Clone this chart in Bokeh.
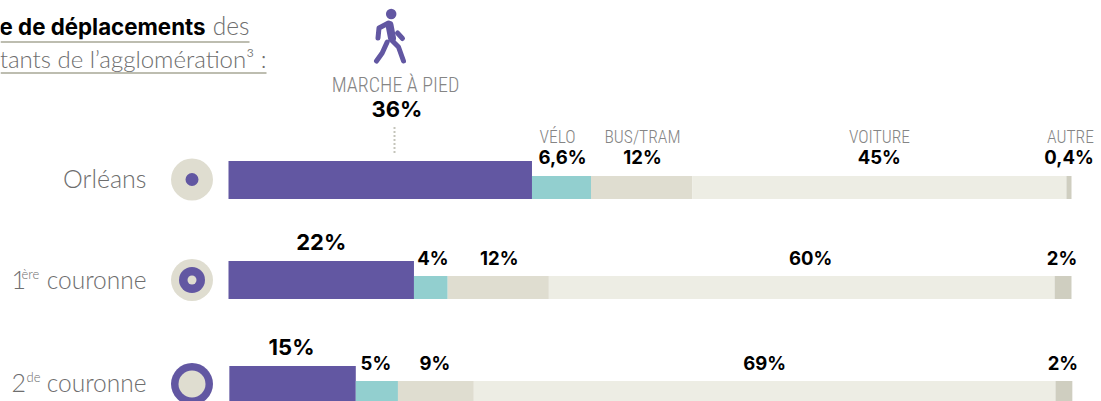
from bokeh.plotting import figure, ColumnDataSource
from bokeh.models import Range1d
from bokeh.core.properties import value
from bokeh.embed import file_html
from bokeh.resources import INLINE

# ---- data ----
rows = ["Orléans", "1ère couronne", "2de couronne"]
modes = ["MARCHE À PIED", "VÉLO", "BUS/TRAM", "VOITURE", "AUTRE"]
orleans = [36, 7, 12, 44.4, 0.6]
couronne1 = [22, 4, 12, 60, 2]
couronne2 = [15, 5, 9, 69, 2]
labels_orleans = ["36%", "6,6%", "12%", "45%", "0,4%"]
labels_couronne1 = ["22%", "4%", "12%", "60%", "2%"]
labels_couronne2 = ["15%", "5%", "9%", "69%", "2%"]
colors = ["#6257a2", "#92cfcf", "#dfddd0", "#edede4", "#cfcec0"]

# ---- layout ----
S = 8.43
X0 = 228
def px(x):
    return (x - X0) / S

PURPLE = colors[0]
BEIGE = colors[2]
GREY = "#6e6e6e"
BODY = "Lato Light, Lato"
BOLD = "Inter"
NARROW = "'Roboto Condensed Light', 'Roboto Condensed', sans-serif"

p = figure(width=1101, height=401, output_backend="svg", toolbar_location=None,
           x_range=Range1d(px(0), px(1101)), y_range=Range1d(401.5, 0.5),
           min_border=0, outline_line_color=None, background_fill_color="white",
           border_fill_color="white")
p.axis.visible = False
p.grid.visible = False

def t(x, y, s, size, font=BODY, color=GREY, align="center", style="normal"):
    p.text([px(x)], [y], text=[s], text_font=value(font), text_font_size=f"{size}px",
           text_color=color, text_align=align, text_baseline="middle", text_font_style=style)

configs = [
    (orleans, labels_orleans, 161, 176, 199, 0, 109, 156.5, [-6, 1, 1, 0, 0]),
    (couronne1, labels_couronne1, 261, 276, 299, 0, 242, 257.5, [0, 2, 1, 9, -1]),
    (couronne2, labels_couronne2, 366, 381, 404, 0.1, 347, 362.5, [-1, -1, -1, 0, -1]),
]
for vals, labs, top0, top, bottom, off, yb, ys, nudges in configs:
    left = off
    lefts, rights, tops, bots, xs, ylab, sizes = [], [], [], [], [], [], []
    for i, v in enumerate(vals):
        lefts.append(left)
        rights.append(left + v)
        tops.append(top0 if i == 0 else top)
        bots.append(bottom)
        xs.append(left + v / 2)
        ylab.append(yb if i == 0 else ys)
        sizes.append("22px" if i == 0 else "18.5px")
        left += v
    src = ColumnDataSource(dict(left=lefts, right=rights, top=tops, bottom=bots, color=colors))
    p.quad(left="left", right="right", top="top", bottom="bottom", fill_color="color",
           line_color=None, source=src)
    for i in range(5):
        x = xs[i] + nudges[i] / S
        if vals is orleans and i == 0:
            x = px(396.5)
        p.text([x], [ylab[i]], text=[labs[i]], text_font=value(BOLD), text_font_style="bold",
               text_font_size=sizes[i], text_color="black", text_align="center",
               text_baseline="middle")

for name, x, y, size in [(modes[0], 395, 85, 20), (modes[1], 557, 137, 17.5),
                         (modes[2], 642, 137, 17.5), (modes[3], 879, 137, 17.5),
                         (modes[4], 1070, 137, 17.5)]:
    t(x, y, name, size, font=NARROW, color="#858585")

p.line([px(394), px(394)], [127, 153], line_color="#c4c4ba", line_width=2, line_dash="2 2")

t(205, 26, "e de déplacements", 22.3, font=BOLD, color="black", align="right", style="bold")
t(249, 25, "des", 24.5, align="right")
t(266, 58, "tants de l’agglomération³ :", 24, align="right")
p.line([px(0), px(249)], [42, 42], line_color="#bdbdb0", line_width=2)
p.line([px(0), px(266)], [73, 73], line_color="#bdbdb0", line_width=2)

t(146, 177.5, rows[0], 25, align="right")
t(146, 279.5, "couronne", 24.5, align="right")
t(11, 279.5, "1", 25, align="left")
t(21, 274, "ère", 13, align="left")
t(146, 382.5, "couronne", 24.5, align="right")
t(11, 382.5, "2", 25, align="left")
t(26, 377, "de", 13, align="left")

def disc(x, y, d, color):
    p.scatter([px(x)], [y], size=d, marker="circle", fill_color=color, line_color=None)
disc(191.5, 179.5, 42, BEIGE); disc(191.5, 179.5, 13, PURPLE)
disc(191.5, 280, 42, BEIGE); disc(191.5, 280, 26, PURPLE); disc(191.5, 280, 9, BEIGE)
disc(191.5, 384, 42, PURPLE); disc(191.5, 384, 27, BEIGE)

disc(390.7, 14, 10.5, PURPLE)
strokes = [
    ([388, 378.5, 377.5], [23, 28, 38], 5),
    ([397, 402], [33, 38.5], 5),
    ([389, 391.5], [25, 38], 8),
    ([391, 398, 403], [40, 47, 61], 5),
    ([386.7, 381.7, 376], [42, 53, 61], 5),
]
for xs_, ys_, w in strokes:
    p.line([px(v) for v in xs_], ys_, line_color=PURPLE, line_width=w, line_cap="round",
           line_join="round")

open("out.html", "w").write(file_html(p, INLINE))
